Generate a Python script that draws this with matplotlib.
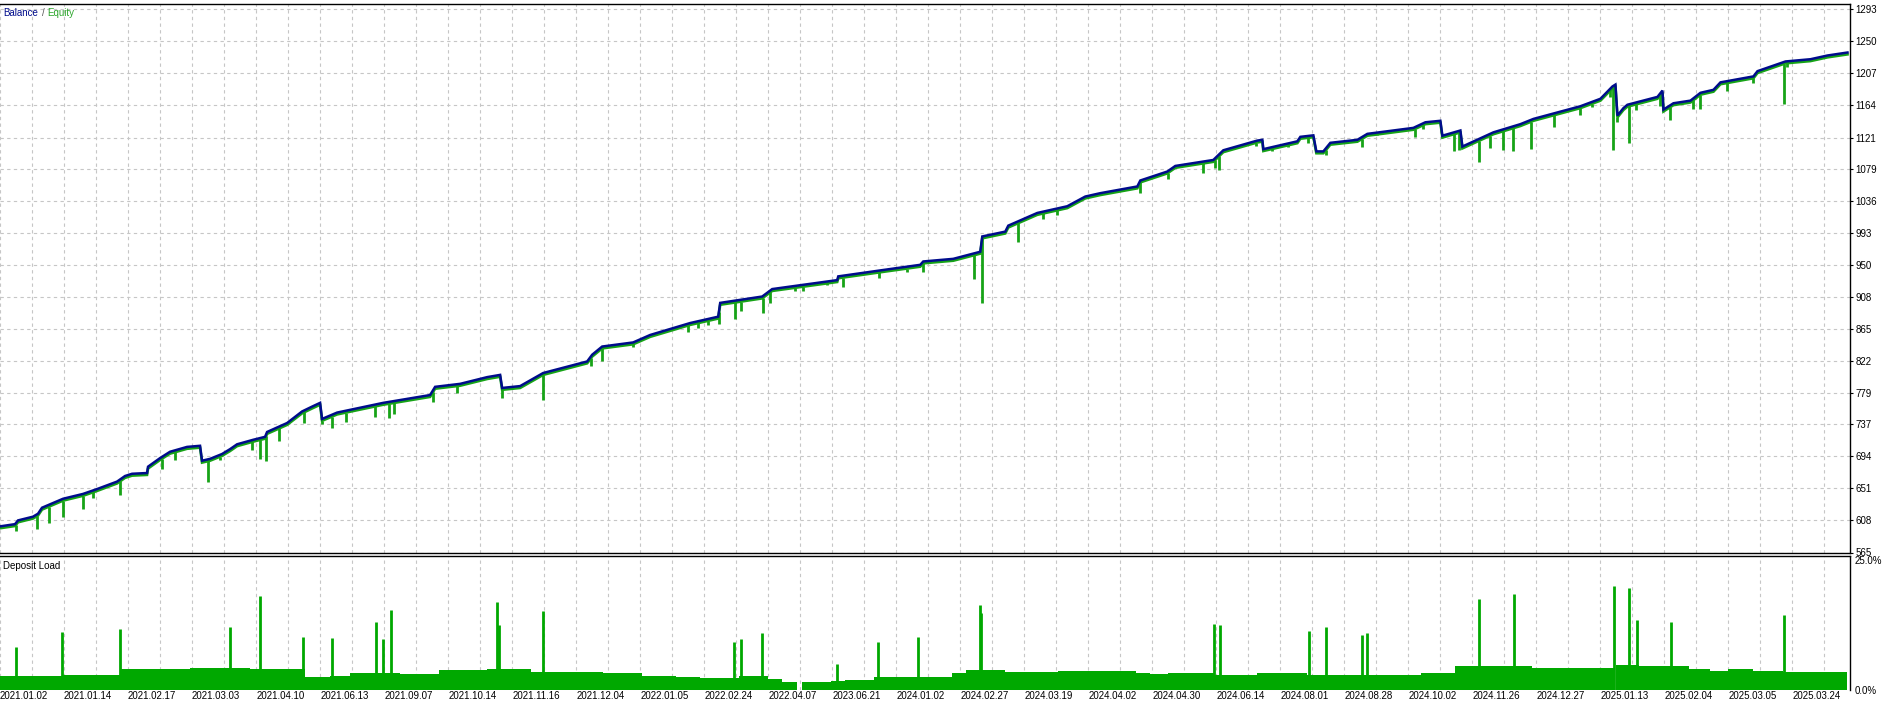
import matplotlib
matplotlib.use('Agg')
import matplotlib.pyplot as plt
import numpy as np

# x axis is a bar index (0..1850), one date label every 64 bars
date_labels = ['2021.01.02', '2021.01.14', '2021.02.17', '2021.03.03', '2021.04.10',
               '2021.06.13', '2021.09.07', '2021.10.14', '2021.11.16', '2021.12.04',
               '2022.01.05', '2022.02.24', '2022.04.07', '2023.06.21', '2024.01.02',
               '2024.02.27', '2024.03.19', '2024.04.02', '2024.04.30', '2024.06.14',
               '2024.08.01', '2024.08.28', '2024.10.02', '2024.11.26', '2024.12.27',
               '2025.01.13', '2025.02.04', '2025.03.05', '2025.03.24']
label_step = 64
x_end = 1850

yticks_top = [565, 608, 651, 694, 737, 779, 822, 865, 908, 950, 993, 1036,
              1079, 1121, 1164, 1207, 1250, 1293]

# balance curve (bar, value)
bal_x = [0, 15, 18, 33, 38, 42, 63, 83, 97, 117, 125, 132, 147, 148, 160, 170, 187, 200,
         202, 210, 222, 230, 237, 253, 265, 267, 287, 302, 312, 320, 322, 337, 383, 430,
         435, 460, 487, 500, 502, 520, 543, 587, 592, 602, 633, 650, 690, 718, 720, 762,
         772, 837, 838, 880, 920, 923, 953, 980, 982, 1005, 1008, 1037, 1067, 1085, 1100,
         1137, 1140, 1167, 1175, 1213, 1223, 1257, 1262, 1263, 1297, 1300, 1313, 1316,
         1323, 1330, 1357, 1367, 1413, 1425, 1440, 1442, 1460, 1462, 1493, 1520, 1533,
         1580, 1600, 1612, 1615, 1617, 1623, 1627, 1657, 1662, 1663, 1673, 1690, 1700,
         1713, 1720, 1753, 1757, 1785, 1810, 1827, 1847]
bal_y = [600, 603, 608, 613, 617, 625, 637, 643.5, 650, 660, 667.5, 670.5, 671.5, 680,
         691.5, 700, 706.5, 708, 688, 690.5, 697, 703.5, 710, 716, 720, 726.5, 738.5, 754,
         760.5, 765.5, 744, 752.5, 765.5, 776, 787, 791, 800, 803, 785.5, 788, 805.5, 821,
         830, 841, 846.5, 856.5, 872.5, 881, 899.5, 908, 918, 930, 935, 943, 950.5, 955,
         958.5, 968, 988.5, 995, 1003, 1020, 1029, 1042, 1046.5, 1055.5, 1063.5, 1075.5,
         1083, 1091, 1104, 1117, 1118, 1105.5, 1116, 1122, 1124, 1102.5, 1102.5, 1114,
         1118, 1126, 1134, 1141.5, 1143.5, 1123.5, 1130.5, 1109, 1128, 1139, 1146, 1163,
         1173, 1189.5, 1192, 1150.5, 1160.5, 1165, 1175.5, 1184, 1158.5, 1167, 1170.5,
         1181, 1185, 1195, 1203, 1210, 1223, 1226, 1231, 1235]

# equity drawdown spikes (bar, lowest equity)
dip_x = [16, 37, 49, 63, 83, 93, 120, 162, 175, 208, 220, 252, 260, 266, 279, 304, 322,
         332, 346, 375, 389, 394, 433, 457, 502, 543, 591, 602, 633, 688, 698, 708, 719,
         735, 741, 763, 770, 795, 803, 827, 843, 879, 907, 923, 974, 982, 1018, 1043, 1057,
         1140, 1168, 1203, 1215, 1219, 1256, 1272, 1288, 1308, 1326, 1362, 1377, 1415,
         1423, 1454, 1459, 1479, 1490, 1503, 1513, 1531, 1554, 1580, 1592, 1610, 1613,
         1617, 1629, 1636, 1660, 1670, 1693, 1700, 1727, 1753, 1784, 1787]
dip_y = [594, 596.5, 605, 612.5, 623, 638, 642, 677, 689, 660, 689, 702.5, 690, 688, 715,
         738.5, 737, 732, 740.5, 746.5, 745, 750.5, 767, 778.5, 772, 769.5, 815, 822, 840.5,
         860, 866, 870, 871.5, 877.5, 889, 886.5, 900, 915, 916, 923.5, 920.5, 932.5, 941.5,
         941.5, 931.5, 899, 980.5, 1012, 1017.5, 1046.5, 1065.5, 1073.5, 1080, 1077, 1110,
         1102.5, 1109, 1114, 1097, 1109, 1124.5, 1122, 1132.5, 1103.5, 1104, 1088, 1107,
         1104, 1102.5, 1105.5, 1135, 1151.5, 1162, 1176, 1104, 1142.5, 1114, 1158.5, 1163,
         1145, 1159, 1159, 1183, 1194.5, 1166.5, 1216]

# deposit load: base level (step, starting bar) and spikes (bar, percent)
load_x = [0, 62, 120, 190, 250, 305, 330, 350, 400, 439, 487, 531, 603, 642, 676, 700,
          739, 768, 782, 797, 802, 831, 845, 874, 952, 966, 1005, 1058, 1136, 1150, 1168,
          1214, 1257, 1307, 1421, 1455, 1532, 1615, 1616, 1639, 1689, 1700, 1710, 1728,
          1753, 1783, 1847]
load_y = [2.6, 2.8, 3.9, 4.1, 3.9, 2.5, 2.6, 3.1, 2.9, 3.7, 4.0, 3.4, 3.2, 2.6, 2.5, 2.3,
          2.6, 2.0, 1.5, 0.0, 1.4, 1.7, 1.9, 2.5, 3.1, 3.7, 3.4, 3.5, 3.1, 2.9, 3.1, 2.8,
          3.1, 2.8, 3.2, 4.5, 4.1, 0.0, 4.7, 4.4, 3.9, 4.0, 3.6, 3.9, 3.6, 3.4, 3.4]
spike_x = [16, 62, 120, 230, 260, 303, 332, 376, 383, 391, 497, 499, 543, 734, 741, 762,
           837, 878, 918, 980, 981, 1214, 1220, 1309, 1326, 1362, 1367, 1479, 1514, 1614,
           1629, 1637, 1671, 1784]
spike_y = [8.0, 10.8, 11.3, 11.75, 17.5, 9.9, 9.7, 12.7, 9.5, 15.0, 16.4, 12.1, 14.7, 9.0,
           9.6, 10.6, 4.9, 9.0, 9.9, 15.9, 14.4, 12.3, 12.1, 11.0, 11.75, 10.2, 10.6, 16.9,
           18.0, 19.4, 19.0, 13.1, 12.7, 14.0]

BAL_C = '#000C8C'
EQ_C = '#17A317'
LOAD_C = '#00A800'
GRID_C = '#C6C6C6'

plt.rcParams['font.family'] = ['Liberation Sans', 'DejaVu Sans']
FS = 7.0

W, H = 1883, 703
fig = plt.figure(figsize=(W / 100, H / 100), dpi=100)


def px_box(left, top, right, bottom):
    return [left / W, 1 - bottom / H, (right - left) / W, (bottom - top) / H]


ax1 = fig.add_axes(px_box(0, 4, 1850.5, 552.5))
ax2 = fig.add_axes(px_box(0, 556, 1850.5, 690))

major = np.arange(len(date_labels)) * label_step
minor = major + label_step / 2

for ax in (ax1, ax2):
    ax.set_xlim(0, x_end)
    ax.set_xticks(major)
    ax.set_xticks(minor[minor < x_end], minor=True)
    ax.grid(True, which='both', axis='x', color=GRID_C, linestyle=(0, (3, 3)), lw=0.8)
    ax.spines['left'].set_visible(False)
    for s in ('top', 'right', 'bottom'):
        ax.spines[s].set_linewidth(1.0)
        ax.spines[s].set_color('black')
    ax.yaxis.tick_right()
    ax.tick_params(axis='x', which='both', length=0)
    ax.set_axisbelow(True)

# --- top panel: balance / equity
ax1.set_ylim(565, 1300)
ax1.set_yticks(yticks_top)
ax1.set_yticklabels([str(v) for v in yticks_top], fontsize=FS)
ax1.tick_params(axis='y', length=2.2, width=0.8, pad=1.5)
ax1.grid(True, axis='y', color=GRID_C, linestyle=(0, (3, 3)), lw=0.8)
ax1.set_xticklabels([])

bx = np.array(bal_x)
by = np.array(bal_y)
ax1.plot(bx, by - 2.5, color=EQ_C, lw=1.9, zorder=2, solid_joinstyle='miter')
tops = np.interp(dip_x, bx, by) - 2.5
ax1.vlines(dip_x, dip_y, tops, color=EQ_C, lw=2.0, zorder=2)
ax1.plot(bx, by, color=BAL_C, lw=1.8, zorder=3, solid_joinstyle='miter')

fig.text(3 / W, 1 - 13 / H, 'Balance', color=BAL_C, fontsize=FS, va='center')
fig.text(42 / W, 1 - 13 / H, '/', color='#555555', fontsize=FS, va='center')
fig.text(47 / W, 1 - 13 / H, 'Equity', color='#2AA52A', fontsize=FS, va='center')

# --- bottom panel: deposit load
ax2.set_ylim(0, 25)
ax2.spines['bottom'].set_visible(False)
ax2.set_yticks([0, 25])
ax2.set_yticklabels(['0.0%', '25.0%'], fontsize=FS)
ax2.get_yticklabels()[1].set_va('top')
ax2.tick_params(axis='y', length=0, pad=3.0)
ax2.set_xticklabels(date_labels, fontsize=FS, ha='left')
ax2.tick_params(axis='x', pad=1)

ax2.fill_between(load_x, 0, load_y, step='post', color=LOAD_C, lw=0, zorder=2)
ax2.vlines(spike_x, 0, spike_y, color=LOAD_C, lw=2.0, zorder=2)
ax2.text(3, 24.0, 'Deposit Load', fontsize=FS, va='top', ha='left', color='black')

fig.savefig('out.png', dpi=100)
